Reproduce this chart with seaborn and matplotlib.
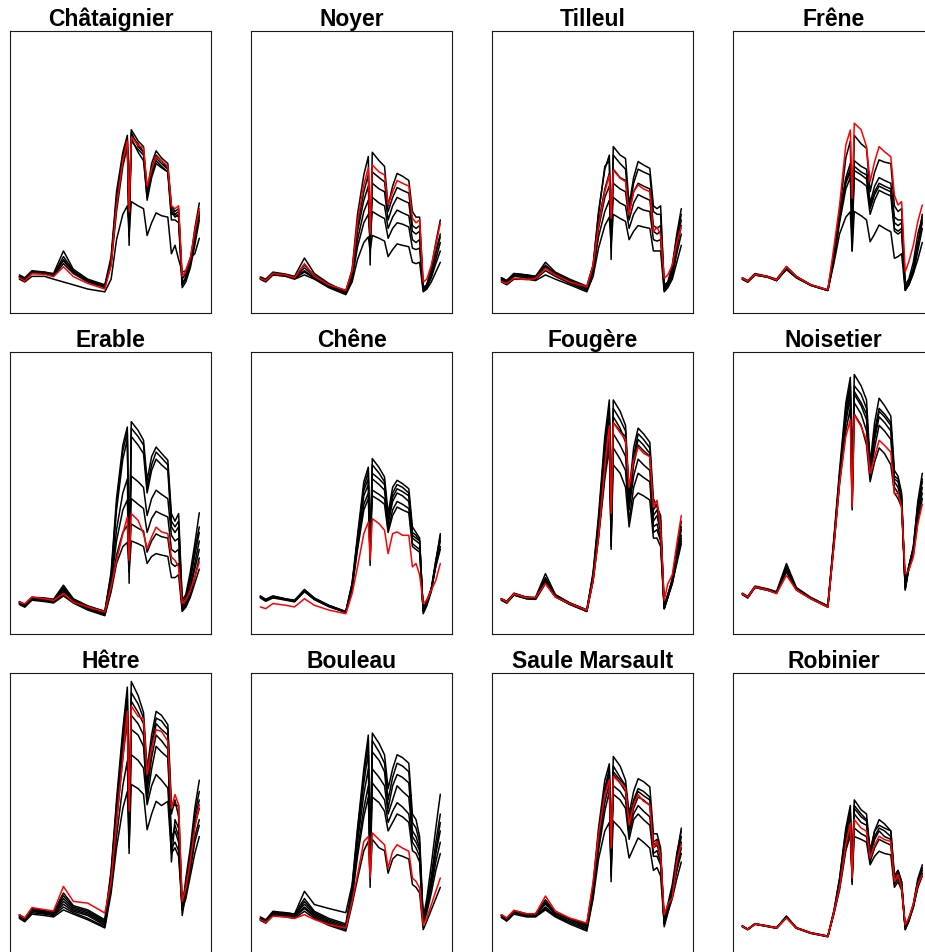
import matplotlib
matplotlib.use("Agg")
import matplotlib.pyplot as plt
import pandas as pd
import seaborn as sns

# spectral band position (relative index along the spectrum)
band = [0, 3, 7, 14, 19, 24.5, 30, 38, 47.5, 51, 54, 57.5, 60, 61, 62.2, 66, 69, 71,
        73.5, 76, 79, 82.5, 84.5, 86.5, 88.5, 90.5, 92.5, 95, 97.5, 100]

species = ["Châtaignier", "Noyer", "Tilleul", "Frêne", "Erable", "Chêne",
           "Fougère", "Noisetier", "Hêtre", "Bouleau", "Saule Marsault", "Robinier"]

# ---- Châtaignier
chataignier_ref = [12.5,11.3,14,13.7,12.9,16.4,12.9,10.5,8.5, 17,38,54,61,36,62.5,59.5,58.5,45,51,55.5,54,52,38,37,38,13,15,19.5,29,37]
chataignier_obs = [
    [13.5,12.5,15,14.5,14,22,15.5,12,10, 20,43,57,63,24,65,61,59,43,53,57.5,55,53,38,36,37,11,12,18,30,39],
    [13,12,14.5,14.5,13.5,20,15,11.5,9.5, 18,40,55,61,30,63,60,57,42,50,55,53,51,36,34,35,10,12,17,26,35],
    [13,12,14.5,14,13.5,18.5,14.5,11.5,9.5, 17,36,52,59,35,61,58,56,40,48,53,51.5,50,33,33,32,9,11,16,24,33],
    [12.5,11.5,14,14,13,17.5,14,11,9, 19,41,55,62,40,62,57,54,41,49,54,52,50,35,35,34,10,13,18,27,36],
    [13,12,14.5,14,13.5,19,14.5,11.5,9.5, 18,39,54,60,27,64,59,57,43,51,56,54,51,37,35,36,12,14,19,28,34],
    [12,11,13,13,12,11,10,8.5,7.5, 12,26,35,38,28,39.5,38,37,27.5,32,35.5,34.5,34,21,24,19,14.5,15,19.5,21,26.5],
]
# ---- Noyer
noyer_ref = [12.3,11.5,14,13.5,12.5,17.5,13,10,8, 15,32.5,45.5,51.5,28,52.5,50,49,38.3,43,47,46,45,33.6,32,33,11,12,17,24,31.8]
noyer_obs = [
    [12.8,12,14.5,13.8,13,19.5,14,10.5,7.5, 15.5,35,49,55.5,17,57,54,52,38,45,49.5,48.5,47,36,34,34,9,10,16,25,33],
    [12.5,11.7,14.2,13.6,12.7,17,13.3,10,8, 14.5,31,43,49,22,50,48,46.5,36,41,44.5,43.5,42.5,31,30,31,9,10,15,22,28],
    [12.3,11.5,14,13.5,12.5,16,13,9.8,7.5, 14,29,40,45,25,46,44,43,33,38,41,40,39,29,28,29,8.5,10,14,21,27],
    [12.2,11.4,13.8,13.3,12.3,15,12.5,9.5,7.2, 13,26,36,40,27,41,39,38,30,34,36.5,35.5,34.5,26,25,26,8,9.5,13,19,25],
    [12,11.2,13.6,13.2,12.2,14.5,12.3,9.2,7, 12,23.5,32,35,26,36,34.5,33.5,26.5,30,32,31.5,30.5,23,22.5,23,8,9,12.5,17.5,22],
    [12,11,13.5,13,12,13.5,12,9,6.5, 11,19,25,27,22,27.5,26.5,25.5,20,22.5,24.5,24,23.5,18,17.5,18,7.5,8.5,11,14.5,18],
]
# ---- Tilleul
tilleul_ref = [11.1,10.5,12.3,11.8,12.3,15.8,13.5,11,9.3, 17,31,43,48.9,33.6,50.7,47.8,46.6,34.8,43,45.4,44,43,28.8,30.5,27.7,12.3,13.5,17,25,30.6]
tilleul_obs = [
    [12.5,11.5,14,13.5,13,18,14.5,12,9.5, 17,36,51,56,19,59,56,54.8,38.3,48,53.7,52.5,51.3,38,37,38,10,11,17,28,37],
    [12,11,13.5,13,12.5,16.5,14,11.5,9, 16,32,44,49.5,26,51,48,47,36,43,46,45,44,31,30,31,9,10.5,15,25,33],
    [12,11,13.5,13,12.5,16,13.5,11,8.5, 15.5,30,41,45,30,46,44,43,33,39,42,41,40,29,28,29,8.5,10,14,23,31],
    [11.5,10.5,13,12.5,12,15,13,10.5,8, 14.5,27,36,40,28,41,39,38,30,35,37.5,36.5,36,26,25.5,26,8,9.5,13,21,28],
    [11,10,12,12,11.5,13.5,12,10,7.5, 13,23,31,34,24,35,33.5,32.5,26,29,31,30.5,30,22,22,22,7.5,9,12,18,24],
    [12.5,11.5,14,13.5,13,17,14,11.5,9, 17,35,52,54,23,56,53,51,36,46,51,50,49,36,35,35,9.5,10.5,16,27,35],
]
# ---- Frêne
frene_ref = [12.3,11.3,13.7,12.9,11.7,16.4,12.9,10,8.2, 24,38,59.6,64.9,40.7,67.3,65,59,46.6,53.7,59,57.2,55.4,41.8,38.3,39.5,14.7,18.2,24,32.4,38.3]
frene_obs = [
    [12.3,11.3,13.7,12.9,11.7,16,12.9,10,8.2, 22,36,55,61,22,63,60,58.4,43,50,54.3,53.5,53,38,36,37,10,12,18,28,34],
    [12.5,11.5,14,13,12,16.5,13,10,8, 21,35,48,53,25,54,52,51,39,45,48,47,46,34,33,33,9,11,16,25,32],
    [12,11,13.5,12.8,11.5,15.5,12.8,9.8,8, 20,34,47,51,30,52,50,49,38,43,46,45,44,32,31,32,9,11,15,24,35],
    [12.3,11.3,13.7,12.9,11.7,16.2,12.9,10,8.2, 20,33,46,50,35,50.5,49,47.5,37,42,45,44,43,30,29,30,8.5,10,14,22,30],
    [12,11,13.5,12.7,11.5,15.5,12.5,9.8,8, 19,32,44,48,28,48,46.5,45,35,40,43.5,42.5,41.5,29,28,29,8,10,15,24,33],
    [12,11,13.5,12.7,11.5,15.5,12.5,9.8,8, 18,28,34,35.9,22,36,34.5,33,25.3,28,31.2,30,28.8,19.4,20,21,8,10,14,19,25],
]
# ---- Erable
erable_ref = [11.3,10.7,13.1,12.5,11.9,14.3,11.3,9.6,7.8, 16.7,26,35.6,41.5,26.1,42.7,40.3,35.6,30.3,34.4,37.9,36.2,35.6,27.3,26.1,23.8,10.8,12,15.5,20.2,25.5]
erable_obs = [
    [11.5,10.5,13,12.8,12.3,17.3,12.5,10,8, 22,48,67,73.4,18,75.3,72.2,68.7,54.5,62.9,66.3,64.1,61.6,42.7,40,42.7,12,14,22,32,43],
    [11.3,10.3,13,12.5,12,16.5,12.3,9.8,8, 21,46,65,71.5,22,73,70,67,52,60,64.5,62.5,60,40,38,40,11,13,20,30,38],
    [11.3,10.3,12.8,12.5,12,16,12,9.5,7.5, 20,44,62,69,25,70,67,64,50,58,62,60,58,38,36,38,10,12,19,28,36],
    [11,10,12.5,12.2,11.5,15.5,11.8,9.3,7.3, 19,37,50,55,24,56,54,52,42,48,51,49.5,48,35,33,34,9,11,17,25,33],
    [11,10,12.5,12,11.5,15,11.5,9,7, 18,33,44,47.5,27,48,46,44.5,36,41,43.5,42.5,41.5,30,29,30,9,10.5,16,23,30],
    [10.8,9.8,12.2,11.8,11.3,14,11.2,8.8,6.8, 16,28,36,38.5,26,39,37.5,36.5,29,33,35.5,34.5,34,25,24,25,8.5,10,14,20,27],
    [10.5,9.5,12,11.5,11,13.5,11,8.5,6.5, 15,25,31,32.5,22,33,32,31,25,27.5,28.5,28,27.5,20,20,21,8,9.5,13,18,23],
]
# ---- Chêne
chene_ref = [9.6,9,10.8,10.2,9.6,12.5,10.2,8.5,7.2, 14.3,23.8,35.6,39.7,26.1,40.9,39.1,36.8,28.5,35.6,36.2,35,35,23.8,25,21,10.8,12,15.5,19,25]
chene_obs = [
    [13.5,12.3,13.5,12.5,12,15.8,12.8,10.2,8, 18,35,54,59.2,24.3,62.2,59,55.7,42.7,52,54.5,53.3,51.5,38,36,34,7.2,10,15,25,35.6],
    [13.2,12,13.2,12.3,11.7,15.6,12.5,10,7.8, 18,34,52,57.5,28,60,57,54,41,50,53,52,50,36,35,33,8,11,16,26,34],
    [13,11.8,13,12.2,11.5,15.2,12.3,9.8,7.7, 17,32,49,53,30,55,53,51,39,47,50,49,47,34,33,32,8.5,11,16,25,33],
    [13.2,12,13.2,12.3,11.7,15.4,12.5,10,7.8, 16.5,31,46,50,33,51,49.5,48,37,44,47,46,44.5,32,31,30,8,11,15.5,24,31],
    [12.8,11.6,12.8,12,11.4,15,12.2,9.7,7.6, 16,30,44,48,28,49,47.5,46,36,42,45,44,43,31,30,29,9,12,16,24,30],
    [13.4,12.2,13.4,12.4,11.8,15.5,12.6,10.1,7.9, 17.5,33,51,55,26,57,55,53,40,48.5,51.5,50.5,49,35,34,33,8,11,16,26,35],
]
# ---- Fougère
fougere_ref = [12.5,11.3,14.3,12.9,12.9,17.9,13.1,10.8,8.4, 19,34.4,59.3,73.8,42.7,74.9,71.4,69,52.1,61.6,66.3,64.1,62.9,45,47.4,37.9,11.9,17.8,21,32,42]
fougere_obs = [
    [12.5,11.5,14.5,13,13,21.4,14,11,8.5, 22,42,70,83,31,83,79,74,50,66,73,71,68,48,45,42,9,13,20,30,40],
    [12.5,11.5,14.3,13,12.8,20,13.8,11,8.5, 21,40,68,80,36,80,76,72,48,63,71,69,66,44,46,40,10,14,19,29,38],
    [12.3,11.3,14,12.8,12.5,19,13.5,10.8,8.3, 20,38,64,77,40,77,73,68,46,60,67,65,63,40,42,36,9,13,18,27,35],
    [12.3,11.3,14,12.8,12.5,18.5,13.3,10.8,8.3, 20,36,60,72,38,71,67,63,44,56,62,60,58,38,39,34,9,13,18,26,33],
    [12,11,13.8,12.5,12.3,18,13.2,10.5,8, 19,35,57,70,34,66,62,58,40,52,57,55.5,54,36,37,33,10,14,19,27,34],
    [12,11,13.8,12.5,12.3,18,13.2,10.5,8, 19,34,55,66,33,60,57,52,38,48,50,49,47.5,34,34,31,9,13,18,25,32],
    [12.5,11.5,14.3,13,12.8,19.5,13.8,11,8.5, 21,40,66,78,30,75,72,70,47,62,69,67,64,42,44,38,9.5,14,19,28,37],
]
# ---- Noisetier
noisetier_ref = [14.3,13.1,16.7,15.6,14.3,20.8,15.6,12.5,9.6, 32.2,53.5,70,75.9,45,77.7,73.6,68.7,56.9,62.8,68.7,66.9,64.5,49.8,49.8,45,21.4,22.6,27.3,39,46]
noisetier_obs = [
    [14.5,13.3,17,16,15,25,16.5,13,10, 35,58,82,91,45,92,88,83,60.4,75,83.6,81,77.3,58,56,50,15.5,23.5,30.5,47,57],
    [14.3,13.1,16.7,15.8,14.8,24,16,12.8,9.8, 34,56,80,88,48,88,85,80,58,72,80,78,75,55,54,48,17,24,30,45,55],
    [14.3,13.1,16.7,15.8,14.8,23,15.8,12.7,9.7, 33,55,77,86,50,85,81,76,57,69,77,75,72,54,52,47,16,23,29,44,52],
    [14,12.8,16.5,15.5,14.5,22.5,15.7,12.6,9.6, 33,54,75,84,46,82,78,72,56,66,74,72,69,52,50,46,18,24,30,42,50],
    [14,12.8,16.5,15.5,14.5,22,15.6,12.5,9.5, 32,53,72,80,44,78,74,67,54,61,66,64,60,50,48,45,17,23,28,40,48],
    [14.3,13.1,16.7,15.8,14.8,23.5,16,12.8,9.8, 34,56,79,89,52,86,82,78,59,70,79,77,74,56,55,49,16,24,31,46,54],
]
# ---- Hêtre
hetre_ref = [14.3,13.1,16.8,16.1,15.6,24.3,19,18.4,14.9, 26,47.4,69.9,86.4,51,88.3,84.6,83.8,64,73.4,79.9,79.3,75.8,52,56.9,53.3,19,23.8,33.2,45,53.3]
hetre_obs = [
    [14.3,13.1,16.5,15.7,15.3,22,17.5,16,12.5, 30,55,80,95,36,97,92,86,66,78,86.4,85,81.7,54,53,53,16,27,38,52,62],
    [14,12.8,16.3,15.5,15,21,17,15.5,12, 29,53,78,93,42,93,89,84,62,75,84,83,80,50,55,49,18,25,35,50,58],
    [14,12.8,16,15.3,14.8,20,16.5,15,11.5, 28,52,76,91,45,90,86,82,60,73,82,80,78,33,48,45,14,22,33,48,55],
    [13.8,12.6,15.8,15,14.5,19,16,14.5,11, 27,50,73,87,48,85,82,78,58,70,78,76,73,40,46,42,16,24,34,46,52],
    [13.5,12.3,15.5,14.8,14.2,18,15.5,14,10.5, 26,47,70,83,44,80,78,74,55,66,74,72,70,42,44,40,17,23,32,42,48],
    [13.3,12,15,14.5,14,17,15,13,10, 24,42,60,68.8,40,71,69,66.3,53.3,60,64,62,59.2,38,40,37,17,22,30,40,46],
    [13,11.8,14.5,14,13.5,16,14.5,12.5,9.6, 22,38,52,58,38,60.5,59,57,44.4,50,54.5,53,54.5,36,38,35,16,20,28,36,42],
]
# ---- Bouleau
bouleau_ref = [12.5,11.5,13.8,13.5,13,14.3,12.6,10.8,9.6, 19,28.5,40.3,42,27.3,43.3,40.9,39.1,30.9,36.8,39.1,37.9,36.8,27.3,26.1,23.8,10.8,13.1,17.8,22.6,27.3]
bouleau_obs = [
    [13,12,15,15,14.5,22.6,17.9,16.5,15, 25,45,66,78,24,78.7,75,71,59,66,71,70,68,50,48,42,13,20,32,45,57],
    [13.5,12.5,15.5,15,14.5,20,15.5,13,11, 24,44,64,76,30,76,72,68,55,63,68,67,65,47,45,40,12,18,28,40,50],
    [13,12,15,14.5,14,19,15,12.5,10.5, 23,42,61,72,34,72,69,65,52,60,64,63,61,44,42,38,11,17,26,37,47],
    [13,12,15,14.5,14,18,14.5,12,10, 22,40,57,66,36,66,63,60,50,55,60,58,56,42,40,37,12,17,26,36,44],
    [12.5,11.5,14.5,14,13.5,17,14,11.5,9.5, 21,37,52,60,33,61,58,55,47,51,54,52.5,50,40,38,35,12,16,24,33,40],
    [12.5,11.5,14.5,14,13.5,16.5,13.5,11,9, 20,35,49,56,32,56,54,51,44,47,50,49,47,37,36,33,11,15,22,30,36],
    [12.3,11.3,14,13.5,13,15.5,13,10.5,8.5, 18,27,37,40.3,27,41,38,37,29,34,35.6,35,34,25,24,22,9,12,16,20,24],
]
# ---- Saule Marsault
saule_ref = [14.3,13.1,15.8,14.6,14.6,20.9,15.6,13.1,11.3, 26,42.7,57,62.2,37.9,63.4,61,59.2,46.2,53.3,56.9,54.5,53.3,37.9,40.3,35.6,14.3,17.9,20.2,33.2,39.4]
saule_obs = [
    [14.3,13.1,15.8,14.6,14.6,19.6,15,13,11, 25,45,62,67.8,28,70.4,67,62,50,58,62.5,61.5,59.6,43,43,38,10,15,22,35,45],
    [14,12.8,15.5,14.3,14.3,18.5,14.8,12.8,10.5, 24,43,59,66,30,67,63,60,48,55,59,58,56,40,41,36,11,16,23,33,42],
    [14,12.8,15.5,14.3,14.3,18,14.5,12.5,10, 23,41,57,64,34,64,61,58,45,52,56,55,53,38,39,35,12,17,24,32,40],
    [13.8,12.6,15.3,14,14,17,14,12,9.5, 22,39,54,61,36,60,58,55,43,50,53,51,49,36,37,33,11,16,22,30,38],
    [13.5,12.3,15,13.8,13.8,16.5,13.8,11.5,9, 21,37,51,58,33,57,55,52,41,48,50,48,46,35,35,32,12,17,23,30,36],
    [13.3,12,14.5,13.5,13.5,16,13.5,11,8.5, 20,34,44,47,30,47.5,45,42,34.4,38,41.5,40,37.9,30,31,28,11,15,20,27,33],
    [14,12.8,15.5,14.3,14.3,18.8,14.8,12.8,10.5, 24,42,58,65,26,65,62,60,47,54,58,56.5,55,39,40,36,13,18,25,36,44],
]
# ---- Robinier
robinier_ref = [10.2,9.1,11,10.2,9.6,13.1,9.6,7.8,6.6, 15.5,23.8,39.1,46.8,27.3,48,45,43.9,34.4,39.1,42.1,40.9,40.3,26.1,28.5,23.8,10.8,13.1,17.9,25,28.5]
robinier_obs = [
    [10.2,9.1,11,10.2,9.6,13.7,9.6,7.8,6.6, 16,27,45,53,26,55,51.5,50,37,44,48,46.5,44,28,30,26,9,12,18,27,32],
    [10.3,9.2,11.1,10.3,9.7,13.5,9.7,7.9,6.7, 15.5,26,43,50,28,52,49,47.5,36,42,45,44,42,27,29,25,10,13,18,26,31],
    [10,9,10.9,10.1,9.5,13.3,9.5,7.7,6.5, 15.5,25,41,48,30,50,47,46,35,41,44,42,41,26,28,25,10,13,17,25,30],
    [10.2,9.1,11,10.2,9.6,13.4,9.6,7.8,6.6, 15,24,38,45,27,45,43,42,33,38,41,40,39,25,27,24,9.5,12,17,24,29],
    [10.1,9,10.9,10.1,9.5,13.2,9.5,7.7,6.5, 15,23,37,42.5,28,42,41,40,32,35,36.8,36,35.5,24,26,23,10,12.5,17,24,28],
    [10.3,9.2,11.1,10.3,9.7,13.8,9.7,7.9,6.7, 16,27,44,51,25,53,50,48,36,44,46,45,44,28,30,26,9,12,17,26,31],
]

refs = [chataignier_ref, noyer_ref, tilleul_ref, frene_ref, erable_ref, chene_ref,
        fougere_ref, noisetier_ref, hetre_ref, bouleau_ref, saule_ref, robinier_ref]
obs = [chataignier_obs, noyer_obs, tilleul_obs, frene_obs, erable_obs, chene_obs,
       fougere_obs, noisetier_obs, hetre_obs, bouleau_obs, saule_obs, robinier_obs]

sns.set_style("white")
plt.rcParams["font.family"] = ["Liberation Sans", "DejaVu Sans"]
plt.rcParams["text.color"] = "black"

W, H = 925, 952
fig = plt.figure(figsize=(W / 100, H / 100), dpi=100)

for i, name in enumerate(species):
    r, c = divmod(i, 4)
    left, top, aw, ah = 10 + 241 * c, 31 + 321 * r, 201, 282
    ax = fig.add_axes([left / W, 1 - (top + ah) / H, aw / W, ah / H])
    rows = []
    for k, curve in enumerate(obs[i]):
        for b, v in zip(band, curve):
            rows.append((k, b, v))
    df = pd.DataFrame(rows, columns=["id", "band", "refl"])
    sns.lineplot(data=df, x="band", y="refl", units="id", estimator=None,
                 color="black", lw=1.1, ax=ax, sort=False)
    dref = pd.DataFrame({"band": band, "refl": refs[i]})
    sns.lineplot(data=dref, x="band", y="refl", estimator=None, color="red",
                 lw=1.1, ax=ax, sort=False)
    ax.set_xlim(-5.2, 106.5)
    ax.set_ylim(0, 100)
    ax.set_xticks([])
    ax.set_yticks([])
    ax.set_xlabel("")
    ax.set_ylabel("")
    for s in ax.spines.values():
        s.set_visible(True)
        s.set_color("#1a1a1a")
        s.set_linewidth(0.8)
    ax.set_title(name, fontsize=16.5, fontweight="bold", pad=1.5, color="black")

fig.savefig("out.png", dpi=100)
